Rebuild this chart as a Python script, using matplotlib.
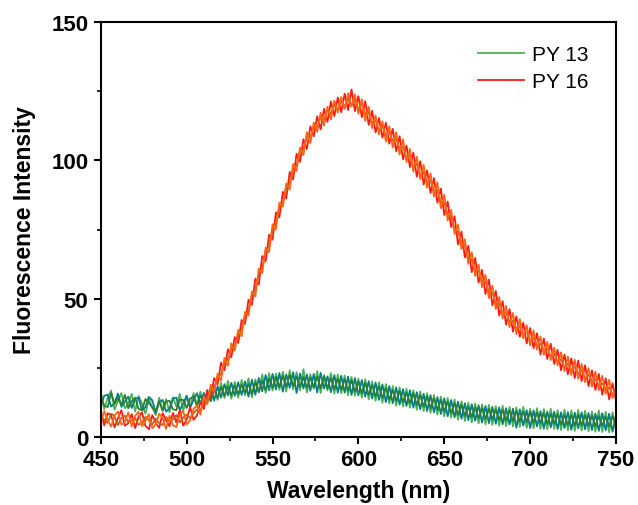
import numpy as np
import matplotlib.pyplot as plt
from matplotlib.ticker import MultipleLocator

plt.rcParams['font.family'] = ['Liberation Sans', 'DejaVu Sans']

# ============================================================
# DATA (2 nm steps)
# ============================================================

wavelength = np.arange(450, 751, 2)

py13_a = [
    16.4, 10.1, 14.2, 16.8, 9.9, 13.1, 15.9, 10.4, 11.8, 15.6,
    9.2, 14.8, 12.1, 8.4, 13.9, 10.6, 7.9, 14.2, 9.8, 13.7,
    8.9, 14.3, 11.0, 15.6, 9.4, 14.8, 10.7, 15.9, 11.6, 16.4,
    11.2, 17.1, 12.9, 18.8, 13.4, 19.6, 14.1, 20.3, 13.8, 19.9,
    14.2, 20.6, 15.1, 21.2, 14.4, 20.8, 16.2, 22.6, 15.9, 23.1,
    16.8, 22.9, 17.1, 23.6, 16.4, 24.1, 17.2, 23.4, 16.9, 24.5,
    16.1, 22.7, 17.4, 23.8, 15.9, 22.4, 16.8, 23.1, 15.7, 22.6,
    15.8, 22.2, 15.1, 21.7, 14.9, 21.1, 14.2, 20.9, 13.6, 20.1,
    13.1, 19.8, 12.4, 19.1, 12.1, 18.4, 11.3, 17.9, 11.0, 17.4,
    10.6, 16.9, 9.8, 16.5, 9.4, 15.8, 8.7, 15.2, 8.1, 14.6,
    7.4, 14.1, 7.0, 13.6, 6.2, 12.9, 5.8, 12.4, 5.3, 12.1,
    4.9, 11.8, 4.6, 11.6, 4.4, 11.2, 4.1, 11.3, 3.9, 10.9,
    3.8, 10.7, 3.6, 10.9, 3.3, 10.2, 3.1, 10.4, 2.9, 10.1,
    2.8, 10.2, 2.9, 9.7, 2.5, 9.9, 2.4, 9.6, 2.2, 9.8,
    2.3, 9.5, 2.1, 9.2, 1.9, 9.6, 1.8, 9.1, 1.7, 8.9,
    2.4,
]

py13_b = [
    11.4, 14.9, 15.3, 11.0, 12.2, 15.7, 10.9, 12.8, 14.6, 10.5,
    13.8, 14.3, 9.6, 10.8, 14.5, 13.2, 8.7, 12.6, 13.4, 9.2,
    10.3, 13.9, 14.2, 9.7, 12.1, 14.9, 10.6, 13.4, 15.8, 11.9,
    15.9, 12.3, 17.6, 13.1, 18.4, 14.2, 19.1, 15.0, 19.6, 14.9,
    19.8, 15.2, 20.1, 14.6, 20.7, 15.3, 21.3, 16.5, 22.4, 16.9,
    22.8, 17.2, 23.1, 16.4, 22.6, 17.8, 23.4, 15.9, 22.9, 17.5,
    22.6, 16.7, 22.8, 16.1, 23.2, 17.5, 21.9, 16.2, 22.4, 16.0,
    22.1, 16.0, 21.8, 15.2, 21.3, 15.1, 20.6, 14.6, 20.2, 13.9,
    19.7, 13.4, 19.0, 12.6, 18.4, 12.2, 17.9, 11.7, 17.3, 11.2,
    16.9, 10.6, 16.2, 10.0, 15.6, 9.4, 15.1, 8.9, 14.4, 8.3,
    14.0, 7.5, 13.4, 7.1, 12.8, 6.6, 12.2, 6.1, 11.8, 5.9,
    11.5, 5.2, 11.2, 5.0, 10.9, 4.8, 10.7, 4.6, 10.4, 4.5,
    10.2, 3.4, 10.0, 4.1, 9.7, 3.2, 9.6, 3.8, 9.3, 3.0,
    9.2, 3.5, 9.1, 2.9, 8.9, 3.2, 9.0, 2.6, 8.8, 3.1,
    8.9, 2.8, 8.7, 2.5, 8.5, 2.2, 8.6, 2.4, 8.4, 1.9,
    8.1,
]

py13_c = [
    14.6, 11.3, 10.8, 15.9, 12.0, 14.1, 11.6, 15.2, 10.4, 12.9,
    14.2, 10.1, 9.8, 13.7, 12.4, 10.6, 9.5, 12.9, 9.4, 12.8,
    13.1, 10.0, 9.7, 13.5, 13.4, 10.5, 13.9, 14.6, 11.2, 15.1,
    12.3, 15.8, 13.0, 17.1, 14.1, 18.0, 14.8, 18.1, 15.0, 18.6,
    15.4, 18.9, 15.9, 19.2, 15.6, 19.7, 16.2, 20.3, 17.0, 21.0,
    17.8, 21.8, 18.0, 22.2, 18.1, 22.4, 18.4, 21.9, 18.0, 21.7,
    17.7, 21.6, 17.9, 21.8, 17.6, 21.9, 17.5, 21.3, 17.3, 21.0,
    17.1, 20.9, 16.7, 20.6, 16.3, 20.1, 15.8, 19.6, 15.2, 18.8,
    14.6, 18.4, 14.1, 17.7, 13.5, 17.0, 13.0, 16.6, 12.6, 16.1,
    12.2, 15.8, 11.6, 15.2, 11.0, 14.7, 10.4, 14.0, 9.8, 13.4,
    9.2, 12.8, 8.6, 12.2, 8.0, 11.6, 7.6, 11.1, 7.2, 10.7,
    6.8, 10.4, 6.6, 10.2, 6.4, 10.0, 6.2, 9.8, 6.0, 9.6,
    5.8, 9.4, 5.6, 9.3, 5.4, 9.1, 5.2, 8.9, 5.0, 8.7,
    4.8, 8.5, 4.7, 8.2, 4.5, 8.0, 4.4, 7.9, 4.2, 8.0,
    4.3, 7.9, 4.1, 7.8, 3.9, 7.6, 4.0, 7.4, 3.8, 7.5,
    4.4,
]

py16_a = [
    9.1, 4.2, 8.6, 7.9, 3.5, 6.8, 9.7, 4.1, 5.0, 8.3,
    3.2, 7.4, 8.9, 4.0, 2.8, 7.9, 5.1, 3.3, 8.6, 6.1,
    3.9, 8.7, 5.2, 9.8, 4.1, 6.3, 10.9, 6.2, 7.8, 12.6,
    10.1, 16.8, 14.2, 21.3, 19.0, 26.9, 24.1, 31.7, 28.8, 36.1,
    34.0, 42.3, 40.9, 49.6, 47.8, 57.2, 55.1, 65.4, 63.5, 73.1,
    71.3, 81.2, 79.4, 88.6, 86.2, 95.8, 93.1, 102.4, 99.5, 107.6,
    104.1, 112.3, 108.7, 115.9, 111.2, 118.6, 113.9, 121.3, 116.0, 122.7,
    117.4, 124.1, 118.2, 125.6, 117.8, 123.2, 115.6, 121.4, 112.8, 117.9,
    110.1, 115.3, 108.2, 113.6, 106.0, 111.4, 103.3, 108.7, 100.4, 105.3,
    97.6, 102.8, 94.1, 99.7, 91.3, 96.4, 88.2, 93.6, 84.7, 89.8,
    80.2, 85.1, 75.9, 79.8, 69.6, 74.2, 64.9, 69.1, 59.6, 64.7,
    55.8, 60.4, 51.7, 56.9, 47.6, 52.8, 43.9, 49.1, 40.6, 46.2,
    38.1, 43.6, 36.2, 41.3, 33.8, 39.4, 32.1, 37.5, 29.8, 35.6,
    28.2, 33.7, 26.4, 31.5, 24.1, 29.8, 22.7, 28.4, 21.3, 27.6,
    20.2, 25.9, 18.4, 24.1, 17.0, 22.8, 15.3, 21.2, 13.6, 19.4,
    13.2,
]

py16_b = [
    5.2, 9.4, 6.1, 3.7, 7.8, 9.2, 4.5, 5.3, 8.9, 3.8,
    7.6, 9.1, 3.9, 5.8, 8.2, 3.1, 4.6, 8.4, 6.9, 2.9,
    7.7, 4.2, 3.6, 8.1, 9.4, 4.5, 6.0, 10.2, 11.3, 8.1,
    14.6, 11.8, 18.9, 16.2, 22.9, 20.4, 28.6, 25.7, 33.9, 31.2,
    38.7, 36.4, 45.2, 43.9, 52.6, 50.8, 60.9, 59.3, 68.4, 66.8,
    76.9, 75.1, 84.7, 83.2, 91.6, 89.4, 98.7, 96.2, 104.6, 101.9,
    110.2, 106.1, 113.7, 110.4, 117.2, 112.6, 119.4, 114.8, 121.6, 117.3,
    122.9, 118.6, 124.3, 119.4, 123.8, 116.9, 122.1, 114.2, 119.4, 111.6,
    116.2, 109.4, 114.1, 106.8, 112.3, 104.6, 110.2, 102.1, 107.6, 99.4,
    104.1, 96.0, 101.3, 93.2, 98.4, 90.1, 95.3, 86.9, 92.1, 82.7,
    87.6, 78.3, 82.1, 73.4, 76.8, 67.9, 71.5, 62.6, 66.8, 58.2,
    62.3, 54.1, 58.6, 50.2, 54.7, 46.3, 50.6, 42.8, 47.4, 39.7,
    44.8, 37.2, 42.6, 35.6, 40.4, 33.1, 38.5, 31.6, 36.3, 29.7,
    34.4, 27.8, 32.3, 25.9, 30.6, 23.8, 29.1, 22.4, 27.9, 21.1,
    26.4, 19.8, 24.9, 18.2, 23.6, 16.9, 22.1, 15.6, 20.7, 14.1,
    17.8,
]

py16_c = [
    7.8, 6.2, 5.1, 8.4, 7.6, 4.3, 6.9, 7.7, 5.4, 6.0,
    6.8, 4.4, 5.2, 7.3, 6.1, 4.6, 6.7, 5.0, 4.3, 7.2,
    5.7, 6.4, 7.9, 5.3, 7.0, 8.1, 6.8, 8.7, 9.9, 9.6,
    12.9, 13.2, 16.8, 17.6, 21.9, 22.6, 27.1, 27.8, 31.9, 32.7,
    37.1, 38.8, 44.0, 45.7, 51.2, 53.1, 58.9, 61.0, 67.2, 68.7,
    75.0, 77.1, 83.1, 84.6, 90.2, 91.7, 97.3, 98.1, 103.4, 103.6,
    108.6, 108.1, 112.4, 111.7, 115.6, 114.6, 118.1, 116.8, 120.0, 118.2,
    121.6, 119.3, 122.4, 119.8, 122.1, 118.6, 120.5, 116.4, 117.3, 113.5,
    114.6, 110.8, 112.3, 109.1, 110.2, 106.9, 107.8, 104.2, 104.9, 100.8,
    101.9, 97.7, 98.8, 94.8, 95.9, 91.8, 92.7, 88.8, 89.4, 84.9,
    84.7, 80.2, 79.8, 75.1, 74.2, 69.8, 69.3, 64.7, 64.2, 60.2,
    60.1, 56.3, 56.2, 52.4, 52.1, 48.5, 48.2, 44.8, 45.1, 41.7,
    42.0, 39.2, 40.1, 37.1, 37.9, 35.0, 35.9, 33.1, 33.8, 31.3,
    32.0, 29.1, 30.1, 27.0, 28.2, 25.4, 26.5, 24.2, 25.3, 23.0,
    24.0, 21.2, 22.4, 20.2, 20.9, 18.8, 19.3, 17.4, 17.8, 15.5,
    15.9,
]

# ============================================================
# PLOT
# ============================================================

fig = plt.figure(figsize=(6.38, 5.06), dpi=100)
ax = fig.add_axes([0.158, 0.1344, 0.8075, 0.8201])

lw = 1.3
ax.plot(wavelength, py13_a, color="#4cb34c", lw=lw, label="PY 13")
ax.plot(wavelength, py13_b, color="#00808a", lw=lw)
ax.plot(wavelength, py13_c, color="#2e7d32", lw=lw)

ax.plot(wavelength, py16_a, color="#ff1a1a", lw=lw, label="PY 16")
ax.plot(wavelength, py16_c, color="#c0601a", lw=lw)
ax.plot(wavelength, py16_b, color="#ff6410", lw=lw)

ax.set_xlim(450, 750)
ax.set_ylim(0, 150)
ax.xaxis.set_major_locator(MultipleLocator(50))
ax.xaxis.set_minor_locator(MultipleLocator(25))
ax.yaxis.set_major_locator(MultipleLocator(50))
ax.yaxis.set_minor_locator(MultipleLocator(25))

ax.tick_params(which="major", direction="out", length=5, width=1.5,
               labelsize=16, pad=4, top=False, right=False)
ax.tick_params(which="minor", direction="out", length=3, width=1.2,
               top=False, right=False)
for lab in ax.get_xticklabels() + ax.get_yticklabels():
    lab.set_fontweight("bold")

for sp in ax.spines.values():
    sp.set_linewidth(1.5)

ax.set_xlabel("Wavelength (nm)", fontsize=16.5, fontweight="bold", labelpad=6)
ax.set_ylabel("Fluorescence Intensity", fontsize=16.5, fontweight="bold", labelpad=11)

ax.legend(loc="upper right", frameon=False, fontsize=15,
          handlelength=2.2, handletextpad=0.35, labelspacing=0.4,
          borderaxespad=0.0, bbox_to_anchor=(0.962, 0.965))

fig.savefig("out.png", dpi=100)
